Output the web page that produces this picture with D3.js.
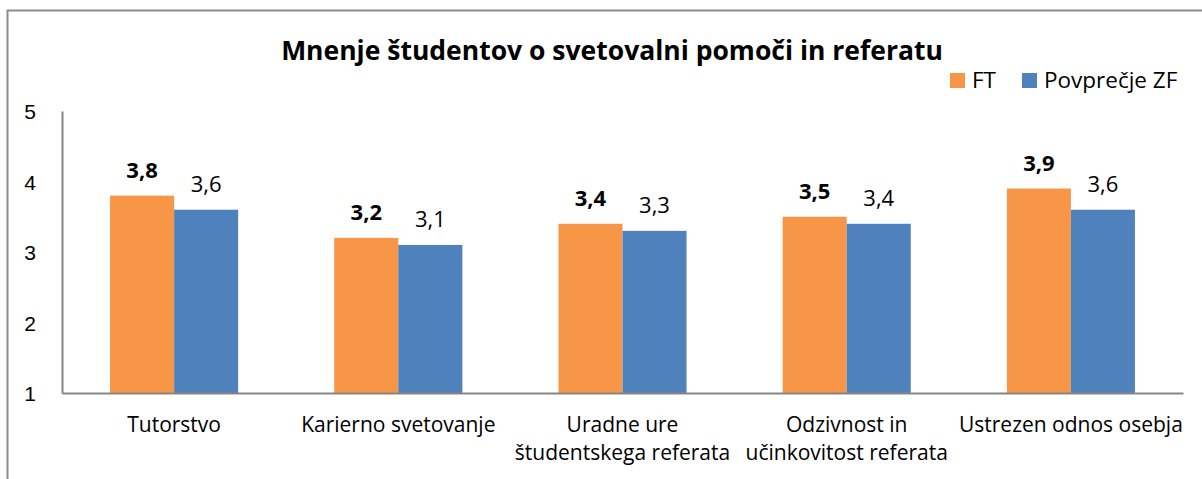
<!DOCTYPE html>
<html><head><meta charset="utf-8">
<script src="https://cdn.jsdelivr.net/npm/d3@7"></script>
<style>body{margin:0;background:#fff;} svg{display:block;font-family:"Open Sans",sans-serif;}</style>
</head><body>
<svg id="chart" width="1202" height="479"></svg>
<script>
const categories = [["Tutorstvo"], ["Karierno svetovanje"], ["Uradne ure", "študentskega referata"], ["Odzivnost in", "učinkovitost referata"], ["Ustrezen odnos osebja"]];
const seriesNames = ["FT", "Povprečje ZF"];
const ftValues = [3.8, 3.2, 3.4, 3.5, 3.9];
const zfValues = [3.6, 3.1, 3.3, 3.4, 3.6];
const yTicks = [1, 2, 3, 4, 5];
const title = "Mnenje študentov o svetovalni pomoči in referatu";
const colors = ["#F79646", "#4F81BD"];

(function () {
const svg = d3.select("#chart");
const pLeft = 62, pRight = 1183, pTop = 111, pBottom = 393;

svg.append("rect").attr("x", 7.5).attr("y", 10.5).attr("width", 1210).attr("height", 490)
  .attr("fill", "none").attr("stroke", "#8c8c8c").attr("stroke-width", 2);

const keys = categories.map((c, i) => i);
const x0 = d3.scaleBand().domain(keys).range([pLeft, pRight]).paddingInner(0.4286).paddingOuter(0.2143);
const x1 = d3.scaleBand().domain([0, 1]).range([0, x0.bandwidth()]);
const y = d3.scaleLinear().domain([1, 5]).range([pBottom, pTop]);

const data = keys.map(i => [ftValues[i], zfValues[i]]);
const g = svg.append("g");
keys.forEach(i => {
  data[i].forEach((v, s) => {
    g.append("rect").attr("x", x0(i) + x1(s)).attr("y", y(v))
      .attr("width", x1.bandwidth()).attr("height", y(1) - y(v)).attr("fill", colors[s]);
    g.append("text").attr("x", x0(i) + x1(s) + x1.bandwidth() / 2).attr("y", y(v) - 18)
      .attr("text-anchor", "middle").attr("font-size", 22)
      .attr("font-weight", s === 0 ? "bold" : "normal").attr("fill", "#000")
      .text(d3.format(".1f")(v).replace(".", ","));
  });
});

const yAxis = d3.axisLeft(y).tickValues(yTicks).tickSize(0).tickPadding(26).tickFormat(d3.format("d"));
const ya = svg.append("g").attr("transform", `translate(${pLeft},0)`).call(yAxis);
ya.select(".domain").attr("stroke", "#868686").attr("stroke-width", 2);
ya.selectAll("text").attr("font-size", 21).attr("font-family", "inherit").attr("fill", "#000").attr("dy", "0.36em");

const xAxis = d3.axisBottom(x0).tickSize(0).tickFormat(() => "");
const xa = svg.append("g").attr("transform", `translate(0,${pBottom})`).call(xAxis);
xa.select(".domain").attr("stroke", "#868686").attr("stroke-width", 2);
keys.forEach(i => {
  const t = svg.append("text").attr("x", x0(i) + x0.bandwidth() / 2).attr("y", 432)
    .attr("text-anchor", "middle").attr("font-size", 21).attr("fill", "#000");
  categories[i].forEach((line, j) => {
    t.append("tspan").attr("x", x0(i) + x0.bandwidth() / 2).attr("dy", j === 0 ? 0 : 28).text(line);
  });
});

svg.append("text").attr("x", 612).attr("y", 60).attr("text-anchor", "middle")
  .attr("font-size", 26.5).attr("font-weight", "bold").text(title);

const legX = [950, 1022];
seriesNames.forEach((n, s) => {
  svg.append("rect").attr("x", legX[s]).attr("y", 73).attr("width", 15).attr("height", 15).attr("fill", colors[s]);
  svg.append("text").attr("x", legX[s] + 22).attr("y", 88).attr("font-size", 22.5).text(n);
});
})();
</script>
</body></html>
